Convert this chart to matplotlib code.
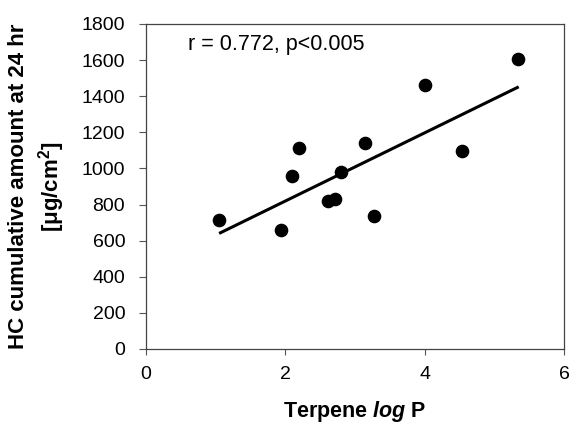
import matplotlib
matplotlib.use("Agg")
import matplotlib.pyplot as plt

plt.rcParams["font.family"] = ["Liberation Sans", "DejaVu Sans"]
plt.rcParams["mathtext.fontset"] = "custom"
plt.rcParams["mathtext.rm"] = "Liberation Sans"
plt.rcParams["mathtext.it"] = "Liberation Sans:italic"
plt.rcParams["mathtext.bf"] = "Liberation Sans:bold"
plt.rcParams["mathtext.bfit"] = "Liberation Sans:italic:bold"

# terpene log P vs HC cumulative amount at 24 hr
log_p = [1.05, 1.94, 2.10, 2.20, 2.61, 2.72, 2.80, 3.14, 3.27, 4.00, 4.54, 5.34]
amount = [714, 659, 960, 1111, 820, 830, 980, 1141, 738, 1462, 1096, 1604]
fit_x = [1.05, 5.35]
fit_y = [640, 1452]
annot = "r = 0.772, p<0.005"

fig = plt.figure(figsize=(5.72, 4.26), dpi=100)
ax = fig.add_axes([0.2552, 0.1808, 0.7308, 0.7629])
ax.plot(log_p, amount, "o", color="black", ms=8.8, zorder=3)
ax.plot(fit_x, fit_y, "-", color="black", lw=2.2, solid_capstyle="butt")
ax.text(0.6, 1745, annot, fontsize=15.5, va="top", ha="left")

ax.set_xlim(0, 6)
ax.set_ylim(0, 1800)
ax.set_xticks([0, 2, 4, 6])
ax.set_yticks(range(0, 1801, 200))
ax.tick_params(direction="out", width=0.8, labelsize=14, color="#555555")
ax.tick_params(axis="x", length=4, pad=8)
ax.tick_params(axis="y", length=5, pad=10)
for s in ax.spines.values():
    s.set_color("#444444")
    s.set_linewidth(0.9)

ax.set_xlabel(r"Terpene $\mathbfit{log}$ P", fontsize=15.5, fontweight="bold")
ax.xaxis.set_label_coords(0.5, -0.155)
ax.set_ylabel("HC cumulative amount at 24 hr\n" + r"[$\mathbf{\mu}$g/cm$^\mathbf{2}$]",
              fontsize=16, fontweight="bold", linespacing=1.3)
ax.yaxis.set_label_coords(-0.19, 0.5)

fig.savefig("out.png", dpi=100)
plt.close()
